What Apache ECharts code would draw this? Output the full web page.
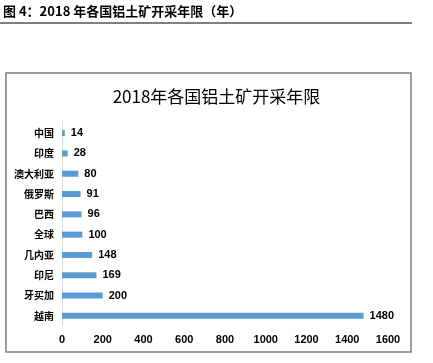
<!DOCTYPE html>
<html><head><meta charset="utf-8">
<script src="https://cdn.jsdelivr.net/npm/echarts@6/dist/echarts.min.js"></script>
<style>html,body{margin:0;padding:0;background:#fff}#c{width:433px;height:363px}</style>
</head><body><div id="c"></div>
<script>
const categories = ['中国','印度','澳大利亚','俄罗斯','巴西','全球','几内亚','印尼','牙买加','越南'];
const values = [14,28,80,91,96,100,148,169,200,1480];
const xTicks = [0,200,400,600,800,1000,1200,1400,1600];
const chart = echarts.init(document.getElementById('c'));
chart.setOption({
  animation:false,
  graphic:[
    {type:'text',left:3,top:5,style:{text:'图 4：2018 年各国铝土矿开采年限（年）',font:'bold 13px "Noto Sans CJK SC"',fill:'#000'}},
    {type:'line',shape:{x1:0,y1:23,x2:412,y2:23},style:{stroke:'#000',lineWidth:1}},
    {type:'rect',shape:{x:6,y:73,width:405,height:279},style:{fill:'none',stroke:'#7f7f7f',lineWidth:1.5}}
  ],
  title:{text:'2018年各国铝土矿开采年限',left:'center',top:83,textStyle:{fontSize:17,fontWeight:'normal',color:'#000',fontFamily:'"Noto Sans CJK SC"'}},
  grid:{left:62,right:45,top:123,bottom:37},
  xAxis:{type:'value',min:0,max:1600,interval:200,
    axisLine:{show:false},axisTick:{show:false},splitLine:{show:false},
    axisLabel:{color:'#000',fontSize:11,fontWeight:'bold',fontFamily:'"Liberation Sans Narrow", "Liberation Sans"',margin:8,
      formatter:v=>xTicks.includes(v)?String(v):''}},
  yAxis:{type:'category',data:categories,inverse:true,
    axisLine:{show:true,lineStyle:{color:'#d9d9d9'}},axisTick:{show:false},
    axisLabel:{color:'#000',fontSize:10,fontWeight:'bold',fontFamily:'"Noto Sans CJK SC"',margin:8}},
  series:[{type:'bar',data:values,barWidth:6,itemStyle:{color:'#5b9bd5'},
    label:{show:true,position:'right',distance:6,color:'#000',fontSize:11,fontWeight:'bold',fontFamily:'"Liberation Sans Narrow", "Liberation Sans"'}}]
});
</script></body></html>
